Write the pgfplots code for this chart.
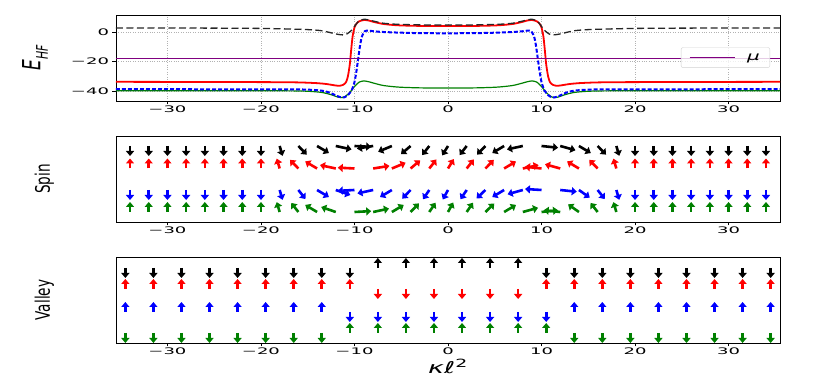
\documentclass[border=0pt]{standalone}
\usepackage{fontspec}
\setmainfont{DejaVu Sans}
\usepackage{graphicx}
\usepackage{pgfplots}
\pgfplotsset{compat=1.18}
\usetikzlibrary{arrows.meta}
\definecolor{mplgreen}{RGB}{0,128,0}
\definecolor{mplpurple}{RGB}{128,0,128}
\pgfplotsset{
  panel/.style={scale only axis, width=664pt, height=86pt, xmin=-35.5, xmax=35.5,
    axis line style={black, line width=0.8pt},
    tick align=outside, major tick length=3.5pt, tick style={black, line width=0.8pt},
    xtick={-30,-20,-10,0,10,20,30}, xticklabels={−30,−20,−10,0,10,20,30},
    xtick pos=lower, ytick pos=left,
    ticklabel style={font=\fontsize{18}{18}\selectfont, yscale=0.5},
    ylabel style={at={(axis description cs:-0.108,0.5)}, anchor=center, font=\fontsize{20}{20}\selectfont},
  },
  qv/.style={quiver={u=\thisrow{u},v=\thisrow{v}}, -{Triangle[length=5pt,width=8pt]}, line width=2.6pt},
}
\begin{document}
\begin{tikzpicture}
\useasboundingbox (0,0) rectangle (830pt,382pt);
% ---------------- top panel ----------------
\begin{axis}[panel, at={(116pt,281pt)}, anchor=south west,
  ymin=-46.8, ymax=11.5, ytick={-40,-20,0}, yticklabels={−40,−20,0},
  grid=major, grid style={dotted, gray!60, line width=0.6pt},
  ylabel={\scalebox{0.68}[1]{\textit{E}\raisebox{-0.3em}{\fontsize{16}{16}\selectfont\textit{HF}}}},
  ylabel style={at={(axis description cs:-0.122,0.5)}, font=\fontsize{25}{25}\selectfont},
  legend style={at={(axis description cs:0.985,0.505)}, anchor=east, draw=gray!35, rounded corners=2pt,
    fill=white, fill opacity=0.8, text opacity=1, font=\fontsize{20}{20}\selectfont, inner xsep=8pt, inner ysep=4pt},
  legend image code/.code={\draw[#1] (0pt,0pt) -- (45pt,0pt);},
]
\addplot[red, line width=1.8pt, smooth, tension=0.4, forget plot] coordinates {
(-35.5,-33.8)(-20,-34.0)(-16,-34.2)(-14,-34.7)(-13,-35.3)(-12,-36.3)(-11.6,-36.5)(-11.2,-35.8)(-10.9,-34)(-10.7,-30)(-10.5,-22)(-10.35,-12)(-10.2,-3)(-10,3.0)(-9.8,5.5)(-9.5,7.2)(-9,8.1)(-8.5,7.8)(-8,6.9)(-7,5.5)(-6,4.8)(-5,4.4)(-3,4.1)(0,4.0)
(3,4.1)(5,4.4)(6,4.8)(7,5.5)(8,6.9)(8.5,7.8)(9,8.1)(9.5,7.2)(9.8,5.5)(10,3.0)(10.2,-3)(10.35,-12)(10.5,-22)(10.7,-30)(10.9,-34)(11.2,-35.8)(11.6,-36.5)(12,-36.3)(13,-35.3)(14,-34.7)(16,-34.2)(20,-34.0)(35.5,-33.8)};
\addplot[mplgreen, line width=1.2pt, smooth, tension=0.4, forget plot] coordinates {
(-35.5,-39.8)(-18,-39.9)(-15,-40.2)(-13.5,-41.0)(-12.5,-42.5)(-11.8,-44.1)(-11.3,-44.5)(-11,-43.8)(-10.5,-41.0)(-10,-37.0)(-9.5,-34.0)(-9,-33.2)(-8.5,-33.7)(-8,-34.6)(-7,-36.2)(-6,-37.0)(-5,-37.5)(-3,-37.9)(0,-38.0)
(3,-37.9)(5,-37.5)(6,-37.0)(7,-36.2)(8,-34.6)(8.5,-33.7)(9,-33.2)(9.5,-34.0)(10,-37.0)(10.5,-41.0)(11,-43.8)(11.3,-44.5)(11.8,-44.1)(12.5,-42.5)(13.5,-41.0)(15,-40.2)(18,-39.9)(35.5,-39.8)};
\addplot[blue, line width=2pt, dash pattern=on 4pt off 2pt, smooth, tension=0.4, forget plot] coordinates {
(-35.5,-38.8)(-18,-38.9)(-15,-39.1)(-13.5,-39.8)(-12.7,-41)(-12,-43)(-11.5,-44.2)(-11.1,-44.3)(-10.7,-42.8)(-10.3,-39.5)(-10,-34)(-9.8,-27)(-9.6,-18)(-9.4,-9)(-9.2,-3)(-8.9,0.5)(-8.5,0.9)(-8,0.5)(-7,0.0)(-5,-0.5)(-3,-0.8)(0,-0.9)
(3,-0.8)(5,-0.5)(7,0.0)(8,0.5)(8.5,0.9)(8.9,0.5)(9.2,-3)(9.4,-9)(9.6,-18)(9.8,-27)(10,-34)(10.3,-39.5)(10.7,-42.8)(11.1,-44.3)(11.5,-44.2)(12,-43)(12.7,-41)(13.5,-39.8)(15,-39.1)(18,-38.9)(35.5,-38.8)};
\addplot[black!85, line width=1.3pt, dash pattern=on 7pt off 3.5pt, smooth, tension=0.4, forget plot] coordinates {
(-35.5,2.7)(-25,2.6)(-20,2.4)(-17,2.0)(-15,1.6)(-13.7,1.0)(-13,0.2)(-12.3,-0.9)(-11.7,-1.7)(-11.2,-2.0)(-10.8,-1.3)(-10.3,1.2)(-9.6,7.0)(-9,8.6)(-8.5,8.2)(-8,7.4)(-7,6.0)(-6,5.4)(-5,5.1)(-3,4.8)(0,4.7)
(3,4.8)(5,5.1)(6,5.4)(7,6.0)(8,7.4)(8.5,8.2)(9,8.6)(9.6,7.0)(10.3,1.2)(10.8,-1.3)(11.2,-2.0)(11.7,-1.7)(12.3,-0.9)(13,0.2)(13.7,1.0)(15,1.6)(17,2.0)(20,2.4)(25,2.6)(35.5,2.7)};
\addplot[mplpurple, line width=1pt] coordinates {(-35.5,-17.8)(35.5,-17.8)};
\addlegendentry{\hspace{10pt}\scalebox{1}[0.6]{\textit{μ}}\hspace{4pt}}
\end{axis}
% ---------------- spin panel ----------------
\begin{axis}[panel, at={(116pt,160pt)}, anchor=south west,
  ymin=0, ymax=86, ytick=\empty,
  ylabel={\scalebox{0.68}[1]{Spin}},
]
\addplot[black, qv] table {
x y u v
-34 76 0 -10
-32 76 0 -10
-30 76 0 -10
-28 76 0 -10
-26 76 0 -10
-24 76 0 -10
-22 76 0 -10
-20 76 0 -10
-18 76 0.31 -9.85
-16 76 0.90 -8.66
-14 76 1.27 -7.07
-12 76 1.69 -3.42
-10 76 1.79 -0.87
-8 76 -1.74 -2.59
-6 76 -1.47 -5.74
-4 76 -1.03 -8.19
-2 76 -0.76 -9.06
0 76 -0.62 -9.40
2 76 -0.76 -9.06
4 76 -0.90 -8.66
6 76 -1.27 -7.07
8 76 -1.69 -3.42
10 76 1.77 -1.74
12 76 1.63 -4.23
14 76 1.27 -7.07
16 76 0.90 -8.66
18 76 0.31 -9.85
20 76 0 -10
22 76 0 -10
24 76 0 -10
26 76 0 -10
28 76 0 -10
30 76 0 -10
32 76 0 -10
34 76 0 -10
};
\addplot[red, qv] table {
x y u v
-34 53.5 0 10
-32 53.5 0 10
-30 53.5 0 10
-28 53.5 0 10
-26 53.5 0 10
-24 53.5 0 10
-22 53.5 0 10
-20 53.5 0 10
-18 53.5 -0.31 9.85
-16 53.5 -0.90 8.66
-14 53.5 -1.27 7.07
-12 53.5 -1.69 3.42
-10 53.5 -1.79 0.87
-8 53.5 1.74 2.59
-6 53.5 1.47 5.74
-4 53.5 1.03 8.19
-2 53.5 0.76 9.06
0 53.5 0.62 9.40
2 53.5 0.76 9.06
4 53.5 0.90 8.66
6 53.5 1.27 7.07
8 53.5 1.69 3.42
10 53.5 -1.77 1.74
12 53.5 -1.63 4.23
14 53.5 -1.27 7.07
16 53.5 -0.90 8.66
18 53.5 -0.31 9.85
20 53.5 0 10
22 53.5 0 10
24 53.5 0 10
26 53.5 0 10
28 53.5 0 10
30 53.5 0 10
32 53.5 0 10
34 53.5 0 10
};
\addplot[blue, qv] table {
x y u v
-34 32 0 -10
-32 32 0 -10
-30 32 0 -10
-28 32 0 -10
-26 32 0 -10
-24 32 0 -10
-22 32 0 -10
-20 32 0 -10
-18 32 0.31 -9.85
-16 32 0.76 -9.06
-14 32 1.27 -7.07
-12 32 1.56 -5.00
-10 32 -1.79 -0.87
-8 32 -1.69 -3.42
-6 32 -1.27 -7.07
-4 32 -0.90 -8.66
-2 32 -0.67 -9.27
0 32 -0.56 -9.51
2 32 -0.67 -9.27
4 32 -0.95 -8.48
6 32 -1.27 -7.07
8 32 -1.63 -4.23
10 32 -1.77 1.00
12 32 1.77 -1.74
14 32 1.16 -7.66
16 32 0.76 -9.06
18 32 0.31 -9.85
20 32 0 -10
22 32 0 -10
24 32 0 -10
26 32 0 -10
28 32 0 -10
30 32 0 -10
32 32 0 -10
34 32 0 -10
};
\addplot[mplgreen, qv] table {
x y u v
-34 10 0 10
-32 10 0 10
-30 10 0 10
-28 10 0 10
-26 10 0 10
-24 10 0 10
-22 10 0 10
-20 10 0 10
-18 10 -0.31 9.85
-16 10 -0.76 9.06
-14 10 -1.27 7.07
-12 10 -1.56 5.00
-10 10 1.79 0.87
-8 10 1.69 3.42
-6 10 1.27 7.07
-4 10 0.90 8.66
-2 10 0.67 9.27
0 10 0.56 9.51
2 10 0.67 9.27
4 10 0.95 8.48
6 10 1.27 7.07
8 10 1.63 4.23
10 10 1.77 1.74
12 10 -1.77 1.74
14 10 -1.16 7.66
16 10 -0.76 9.06
18 10 -0.31 9.85
20 10 0 10
22 10 0 10
24 10 0 10
26 10 0 10
28 10 0 10
30 10 0 10
32 10 0 10
34 10 0 10
};
\end{axis}
% ---------------- valley panel ----------------
\begin{axis}[panel, at={(116pt,39pt)}, anchor=south west,
  ymin=0, ymax=86, ytick=\empty,
  ylabel={\scalebox{0.68}[1]{Valley}},
  xlabel={\scalebox{1}[0.6]{\textit{κℓ}\textsuperscript{2}}},
  xlabel style={at={(axis description cs:0.5,-0.27)}, anchor=center, font=\fontsize{27}{27}\selectfont},
]
\addplot[black, qv] table {
x y u v
-34.5 75 0 -10
-31.5 75 0 -10
-28.5 75 0 -10
-25.5 75 0 -10
-22.5 75 0 -10
-19.5 75 0 -10
-16.5 75 0 -10
-13.5 75 0 -10
-10.5 75 0 -10
-7.5 75 0 10
-4.5 75 0 10
-1.5 75 0 10
1.5 75 0 10
4.5 75 0 10
7.5 75 0 10
10.5 75 0 -10
13.5 75 0 -10
16.5 75 0 -10
19.5 75 0 -10
22.5 75 0 -10
25.5 75 0 -10
28.5 75 0 -10
31.5 75 0 -10
34.5 75 0 -10
};
\addplot[red, qv] table {
x y u v
-34.5 54 0 10
-31.5 54 0 10
-28.5 54 0 10
-25.5 54 0 10
-22.5 54 0 10
-19.5 54 0 10
-16.5 54 0 10
-13.5 54 0 10
-10.5 54 0 10
-7.5 54 0 -10
-4.5 54 0 -10
-1.5 54 0 -10
1.5 54 0 -10
4.5 54 0 -10
7.5 54 0 -10
10.5 54 0 10
13.5 54 0 10
16.5 54 0 10
19.5 54 0 10
22.5 54 0 10
25.5 54 0 10
28.5 54 0 10
31.5 54 0 10
34.5 54 0 10
};
\addplot[blue, qv] table {
x y u v
-34.5 31 0 10
-31.5 31 0 10
-28.5 31 0 10
-25.5 31 0 10
-22.5 31 0 10
-19.5 31 0 10
-16.5 31 0 10
-13.5 31 0 10
-10.5 31 0 -10
-7.5 31 0 -10
-4.5 31 0 -10
-1.5 31 0 -10
1.5 31 0 -10
4.5 31 0 -10
7.5 31 0 -10
10.5 31 0 -10
13.5 31 0 10
16.5 31 0 10
19.5 31 0 10
22.5 31 0 10
25.5 31 0 10
28.5 31 0 10
31.5 31 0 10
34.5 31 0 10
};
\addplot[mplgreen, qv] table {
x y u v
-34.5 10 0 -10
-31.5 10 0 -10
-28.5 10 0 -10
-25.5 10 0 -10
-22.5 10 0 -10
-19.5 10 0 -10
-16.5 10 0 -10
-13.5 10 0 -10
-10.5 10 0 10
-7.5 10 0 10
-4.5 10 0 10
-1.5 10 0 10
1.5 10 0 10
4.5 10 0 10
7.5 10 0 10
10.5 10 0 10
13.5 10 0 -10
16.5 10 0 -10
19.5 10 0 -10
22.5 10 0 -10
25.5 10 0 -10
28.5 10 0 -10
31.5 10 0 -10
34.5 10 0 -10
};
\end{axis}
\end{tikzpicture}
\end{document}
